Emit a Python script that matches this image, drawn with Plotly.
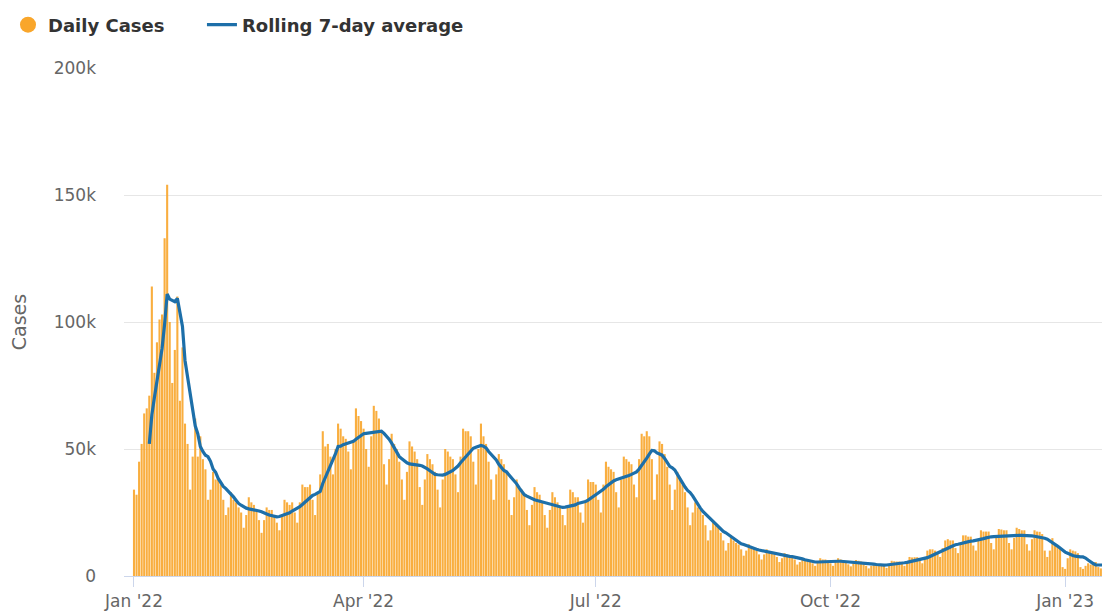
import pandas as pd
import plotly.graph_objects as go

# Daily cases in thousands, one row per week (weeks start Saturday 1 Jan 2022)
daily_cases_k = [
    34, 32, 45, 52, 64, 66, 71,
    114, 80, 92, 101, 103, 133, 154,
    100, 76, 89, 110, 69, 90, 60,
    52, 34, 47, 62, 47, 55, 46,
    42, 30, 34, 41, 38, 38, 36,
    30, 24, 27, 33, 30, 29, 27,
    25, 19, 24, 31, 29, 28, 26,
    22, 17, 22, 27, 26, 26, 24,
    21, 18, 24, 30, 29, 28, 29,
    25, 21, 29, 36, 35, 35, 36,
    30, 24, 33, 40, 57, 51, 52,
    47, 40, 50, 60, 58, 55, 54,
    49, 42, 53, 66, 63, 61, 58,
    50, 43, 55, 67, 65, 62, 57,
    44, 36, 46, 56, 52, 50, 45,
    38, 30, 41, 53, 51, 49, 46,
    35, 28, 38, 48, 46, 44, 41,
    34, 27, 38, 50, 49, 47, 46,
    40, 33, 47, 58, 57, 57, 55,
    45, 36, 50, 60, 55, 52, 45,
    38, 30, 40, 48, 46, 44, 41,
    30, 24, 31, 38, 35, 34, 32,
    26, 20, 28, 35, 33, 32, 29,
    24, 19, 26, 33, 31, 29, 27,
    24, 20, 27, 34, 33, 31, 31,
    25, 21, 30, 38, 37, 37, 36,
    30, 25, 36, 45, 43, 42, 41,
    33, 27, 38, 47, 46, 45, 44,
    36, 31, 46, 56, 55, 57, 55,
    46, 30, 40, 53, 52, 48, 43,
    36, 26, 34, 41, 39, 36, 33,
    27, 20, 25, 29, 27, 26, 24,
    20, 14, 18, 21, 20, 19, 17,
    14, 10, 13, 16, 14, 13, 12.4,
    10.5, 8, 10, 12.5, 11.5, 11, 10,
    8.5, 6.5, 8.5, 10.5, 9.5, 9, 8.5,
    7.5, 5.5, 7, 9, 8.5, 8, 7.7,
    6.5, 4.5, 5.5, 6.5, 6, 6, 5.6,
    5, 4, 5.5, 7, 6.5, 6.5, 6.1,
    5, 4, 5.5, 7, 6.5, 6, 5.2,
    4.6, 3.8, 5, 6.3, 6, 5.7, 5,
    4, 3, 4, 5, 5, 4.6, 4.5,
    4, 3.2, 4.6, 6, 5.8, 5.7, 5.7,
    4.8, 4, 5.7, 7.5, 7.3, 7.4, 7.4,
    6, 5, 7.5, 10, 10.5, 10.5, 10,
    9, 7.5, 11, 14, 14.5, 14, 14,
    11, 9, 13, 16, 16, 15.5, 15.5,
    12, 10, 14.5, 18, 17.5, 17.5, 17.5,
    13, 10.5, 15, 18.5, 18.3, 18, 18,
    13, 10.5, 15, 19, 18.5, 18, 18,
    12.5, 10, 14.5, 18, 17.5, 17.4, 16.5,
    10, 7.5, 10, 14.9, 12, 11.5, 11.1,
    3.5, 2.8, 7, 10.5, 10, 9.7, 9,
    3.5, 2.8, 4, 5, 4.5, 5.5, 5.5,
    3.5, 3, 4, 4.1,
]
start_date = "2022-01-01"

y_tick_values = [0, 50000, 100000, 150000, 200000]
y_tick_labels = ["0", "50k", "100k", "150k", "200k"]
x_tick_dates = ["2022-01-01", "2022-04-01", "2022-07-01", "2022-10-01", "2023-01-01"]
x_tick_labels = ["Jan '22", "Apr '22", "Jul '22", "Oct '22", "Jan '23"]

dates = pd.date_range(start_date, periods=len(daily_cases_k), freq="D")
cases = pd.Series([v * 1000 for v in daily_cases_k], index=dates)
rolling = cases.rolling(7).mean()

BAR = "#f9a62b"
LINE = "#1d6fa9"
FONT = "DejaVu Sans"
TICK_COLOR = "#666666"

fig = go.Figure()
fig.add_trace(go.Bar(
    x=dates, y=cases.values, marker=dict(color=BAR, line=dict(width=0)),
    opacity=0.9, showlegend=False, legendgroup="daily", name="Daily Cases",
))
fig.add_trace(go.Scatter(
    x=[None], y=[None], mode="markers", name="Daily Cases", legendgroup="daily",
    marker=dict(color=BAR, size=16, symbol="circle"), legend="legend",
))
fig.add_trace(go.Scatter(
    x=dates, y=rolling.values, mode="lines", name="Rolling 7-day average",
    line=dict(color=LINE, width=3.2), connectgaps=False, legend="legend2",
))

legend_font = dict(family=FONT, size=18, color="#333333", weight="bold")

fig.update_layout(
    width=1102, height=606,
    margin=dict(l=116, r=0, t=60, b=38),
    paper_bgcolor="white", plot_bgcolor="white",
    font=dict(family=FONT, color=TICK_COLOR, size=17),
    bargap=0.18,
    showlegend=True,
    legend=dict(
        orientation="h", xref="container", yref="container",
        x=-0.0027, y=0.972, xanchor="left", yanchor="middle",
        font=legend_font, itemwidth=30, bgcolor="rgba(0,0,0,0)",
    ),
    legend2=dict(
        orientation="h", xref="container", yref="container",
        x=0.176, y=0.972, xanchor="left", yanchor="middle",
        font=legend_font, itemwidth=30, bgcolor="rgba(0,0,0,0)",
    ),
    xaxis=dict(
        type="date",
        range=["2021-12-28 02:00", "2023-01-18 14:00"],
        tickvals=x_tick_dates, ticktext=x_tick_labels,
        showgrid=False, showline=True, linecolor="#ccd6eb", linewidth=1,
        ticks="outside", ticklen=10, tickcolor="#ccd6eb",
        tickfont=dict(family=FONT, size=17, color=TICK_COLOR),
        zeroline=False,
    ),
    yaxis=dict(
        range=[0, 200000],
        tickvals=y_tick_values, ticktext=y_tick_labels,
        showgrid=True, gridcolor="#e6e6e6", gridwidth=1,
        zeroline=False, showline=False,
        ticklabelstandoff=27,
        tickfont=dict(family=FONT, size=17, color=TICK_COLOR),
        title=dict(text="Cases", font=dict(family=FONT, size=19, color=TICK_COLOR), standoff=22),
    ),
)

fig.write_html("out.html")
